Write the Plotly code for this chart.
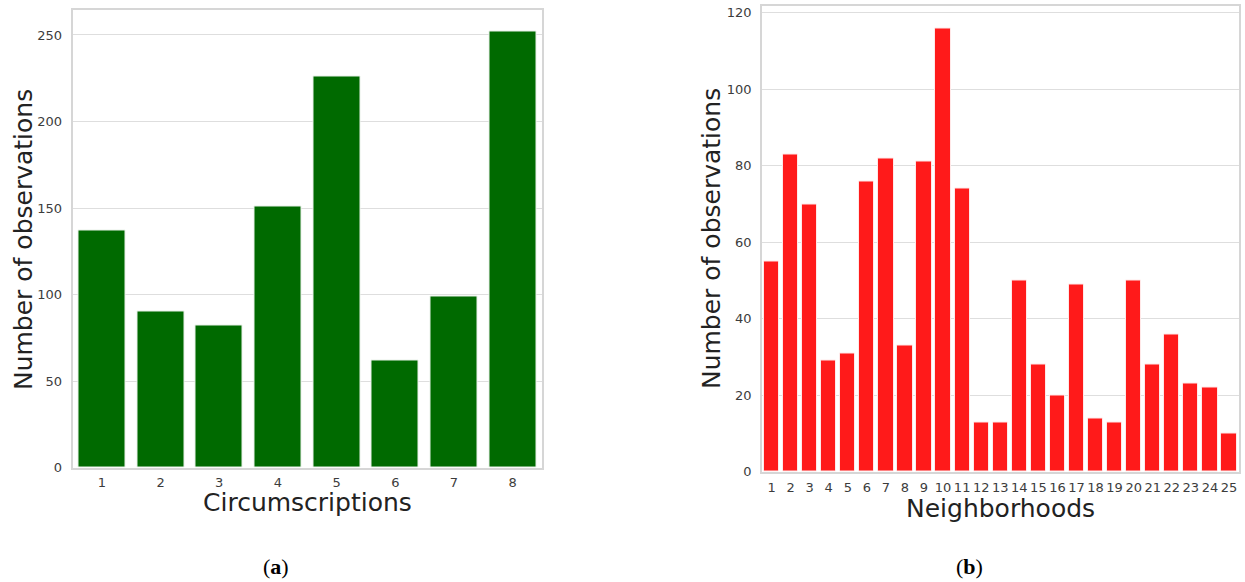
import plotly.graph_objects as go

# Observations per circumscription (panel a)
circ_labels = ["1", "2", "3", "4", "5", "6", "7", "8"]
circ_counts = [137, 90, 82, 151, 226, 62, 99, 252]

# Observations per neighborhood (panel b)
neigh_labels = [str(i) for i in range(1, 26)]
neigh_counts = [55, 83, 70, 29, 31, 76, 82, 33, 81, 116, 74, 13, 13,
                50, 28, 20, 49, 14, 13, 50, 28, 36, 23, 22, 10]

W, H = 1245, 582
# vertical layout scale used when placing the panels
VSCALE = 0.986
GRID = "#dedede"
FRAME = "#d6d6d6"
TICK_FONT = dict(family="DejaVu Sans", size=13, color="#3c3c3c")
TITLE_FONT = dict(family="DejaVu Sans", size=25, color="#222222")

fig = go.Figure()
fig.add_trace(go.Bar(x=circ_labels, y=circ_counts, width=0.8,
                     marker=dict(color="#006a00", line=dict(color="#e8f0e8", width=1)),
                     xaxis="x", yaxis="y", showlegend=False))
fig.add_trace(go.Bar(x=neigh_labels, y=neigh_counts, width=0.8,
                     marker=dict(color="#ff1a1a", line=dict(color="#ffe8e8", width=1)),
                     xaxis="x2", yaxis="y2", showlegend=False))


def px_x(p):
    return p / W


def px_y(p):
    return 1 - (p / VSCALE) / H


common_x = dict(type="category", showgrid=False, showline=True, linecolor=FRAME,
                linewidth=1.5, mirror=True, ticks="outside", ticklen=2,
                tickcolor="rgba(0,0,0,0)", tickfont=TICK_FONT, zeroline=False)
common_y = dict(showgrid=True, gridcolor=GRID, gridwidth=1.2, showline=True,
                linecolor=FRAME, linewidth=1.5, mirror=True, ticks="outside",
                ticklen=6, tickcolor="rgba(0,0,0,0)", tickfont=TICK_FONT,
                zeroline=False)

fig.update_layout(
    width=W, height=H,
    margin=dict(l=0, r=0, t=0, b=0),
    paper_bgcolor="white", plot_bgcolor="white",
    bargap=0,
    xaxis=dict(common_x, domain=[px_x(72.5), px_x(542)], anchor="y",
               range=[-0.5, 7.5]),
    yaxis=dict(common_y, domain=[px_y(467.5), px_y(9.5)], anchor="x",
               range=[0, 264.7], tickvals=[0, 50, 100, 150, 200, 250]),
    xaxis2=dict(common_x, domain=[px_x(762), px_x(1238.5)], anchor="y2",
                range=[-0.5, 24.5], ticklen=3),
    yaxis2=dict(common_y, domain=[px_y(471.7), px_y(5.5)], anchor="x2",
                range=[0, 121.9], tickvals=[0, 20, 40, 60, 80, 100, 120]),
)

annotations = [
    dict(text="Number of observations", x=px_x(23), y=px_y(240), textangle=-90,
         font=TITLE_FONT),
    dict(text="Circumscriptions", x=px_x(307), y=px_y(502), font=TITLE_FONT),
    dict(text="Number of observations", x=px_x(711), y=px_y(239), textangle=-90,
         font=TITLE_FONT),
    dict(text="Neighborhoods", x=px_x(1000), y=px_y(508), font=TITLE_FONT),
    dict(text="(<b>a</b>)", x=px_x(276), y=px_y(566),
         font=dict(family="Liberation Serif", size=22, color="black")),
    dict(text="(<b>b</b>)", x=px_x(969), y=px_y(566),
         font=dict(family="Liberation Serif", size=22, color="black")),
]
for a in annotations:
    a.update(xref="paper", yref="paper", showarrow=False,
             xanchor="center", yanchor="middle")
fig.update_layout(annotations=annotations)

fig.write_html("out.html")
